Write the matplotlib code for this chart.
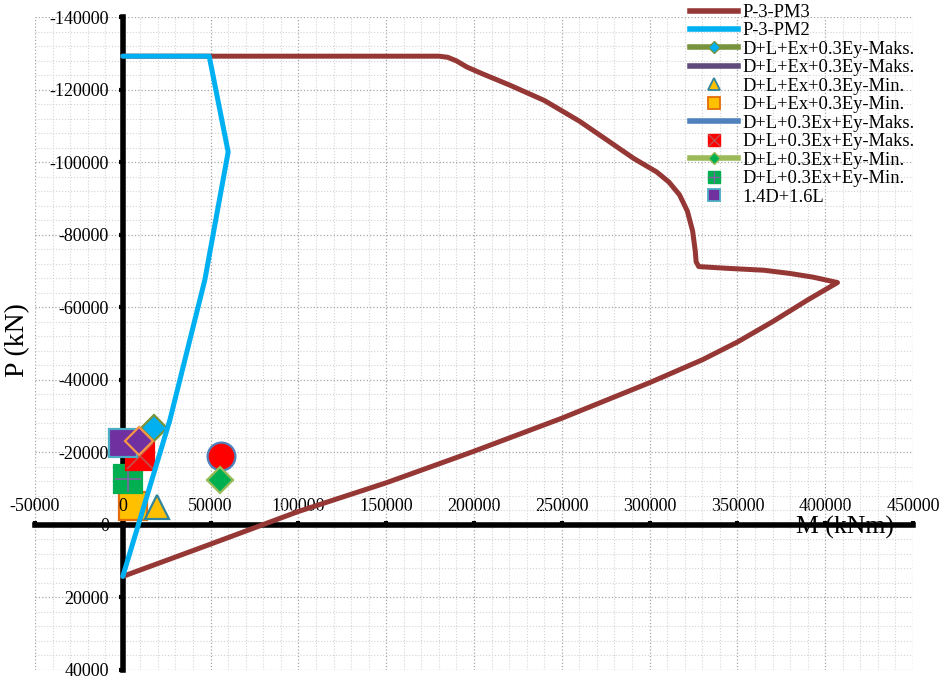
import matplotlib
matplotlib.use("Agg")
import matplotlib.pyplot as plt
from matplotlib.lines import Line2D
from matplotlib.ticker import MultipleLocator

plt.rcParams['font.family'] = ['Liberation Serif', 'DejaVu Serif']
plt.rcParams['axes.unicode_minus'] = False

# interaction diagram P-3-PM3 (M in kNm, P in kN, compression negative)
pm3_m = [0, 50000, 100000, 150000, 200000, 250000, 300000, 330000, 350000,
         370000, 390000, 407000, 393000, 380000, 365000, 345000, 328000,
         326500, 326000, 324500, 321500, 317000, 311000, 304000, 291000, 276000,
         260000, 240000, 220000, 205000, 196000, 190000, 185000, 180000, 0]
pm3_p = [14200, 5300, -3700, -11600, -20300, -29400, -39200, -45500, -50400,
         -56000, -62000, -66800, -68300, -69300, -70200, -70700, -71200,
         -72500, -75500, -81000, -86500, -91000, -94500, -97300, -101000, -106000,
         -111300, -117000, -121300, -124300, -126200, -127900, -128900, -129200, -129200]

# interaction diagram P-3-PM2
pm2_m = [0, 9700, 26800, 46700, 60000, 49200, 0]
pm2_p = [14200, -1400, -28900, -67500, -102800, -129200, -129200]

# load combinations
combo_names = ["D+L+Ex+0.3Ey-Maks.", "D+L+Ex+0.3Ey-Maks.",
               "D+L+Ex+0.3Ey-Min.", "D+L+Ex+0.3Ey-Min.",
               "D+L+0.3Ex+Ey-Maks.", "D+L+0.3Ex+Ey-Maks.",
               "D+L+0.3Ex+Ey-Min.", "D+L+0.3Ex+Ey-Min.",
               "1.4D+1.6L"]
combo_m = [17600, 9000, 19600, 5700, 55800, 9900, 55500, 2700, 0]
combo_p = [-26600, -23200, -5000, -5100, -19000, -18900, -12500, -12600, -22700]

x_ticks = list(range(-50000, 450001, 50000))
y_ticks = list(range(-140000, 40001, 20000))

fig = plt.figure(figsize=(9.5, 6.82), dpi=100)
ax = fig.add_axes([35 / 950, 1 - 670 / 682, (913 - 35) / 950, (670 - 17) / 682])

ax.set_xlim(-50000, 450000)
ax.set_ylim(40000, -140000)
ax.set_xticks(x_ticks)
ax.set_yticks(y_ticks)
# the x "0" is written separately so it sits above the markers
ax.set_xticklabels(['' if v == 0 else str(v) for v in x_ticks])
ax.set_yticklabels([str(v) for v in y_ticks])
ax.xaxis.set_minor_locator(MultipleLocator(10000))
ax.yaxis.set_minor_locator(MultipleLocator(4000))

ax.grid(which='major', ls=':', color='#A6A6A6', lw=0.9)
ax.grid(which='minor', ls=':', color='#D4D4D4', lw=0.8)
ax.set_axisbelow(True)

# axes cross at the origin
ax.xaxis.set_ticks_position('top')
ax.spines['top'].set_position(('data', 0))
ax.spines['left'].set_position(('data', 0))
ax.spines['right'].set_visible(False)
ax.spines['bottom'].set_visible(False)
for s in ('top', 'left'):
    ax.spines[s].set_linewidth(4)
    ax.spines[s].set_zorder(2)
ax.tick_params(which='major', direction='out', length=3, width=3, labelsize=13)
ax.tick_params(axis='x', pad=4)
ax.tick_params(axis='y', pad=7)
ax.tick_params(which='minor', length=0)
ax.annotate('0', xy=(0, 0), xytext=(0, 7), textcoords='offset points',
            ha='center', va='bottom', fontsize=13, zorder=10)

ax.plot(pm3_m, pm3_p, color='#953735', lw=3.6, solid_capstyle='round',
        solid_joinstyle='round', zorder=6)
ax.plot(pm2_m, pm2_p, color='#00B0F0', lw=3.6, solid_capstyle='round',
        solid_joinstyle='round', zorder=7)

# marker styles per combination: (marker, size, face, edge, overlay)
styles = [
    ('D', 13.7, '#00B0F0', '#77933C', None),
    ('D', 14.5, '#7030A0', '#F79646', None),
    ('^', 17, '#FFC000', '#31859C', None),
    ('s', 19.5, '#FFC000', '#E46C0A', None),
    ('o', 20, '#FF0000', '#4F81BD', None),
    ('s', 19.5, '#FF0000', '#FF0000', ('x', '#C0504D')),
    ('D', 13.7, '#00B050', '#9BBB59', None),
    ('s', 20, '#00B050', '#00B050', ('+', '#8064A2')),
    ('s', 19.5, '#7030A0', '#4BACC6', None),
]
z_order = [5.4, 5.5, 5.1, 5.0, 5.0, 5.2, 5.1, 5.0, 5.3]
for m, p, st, z in zip(combo_m, combo_p, styles, z_order):
    mk, ms, fc, ec, over = st
    ax.plot([m], [p], marker=mk, ms=ms, mfc=fc, mec=ec, mew=1.6, ls='none', zorder=z)
    if over:
        ax.plot([m], [p], marker=over[0], ms=ms * 0.95, mec=over[1], mew=1.2,
                ls='none', zorder=z)

# legend handles
lw = 4
handles = [
    Line2D([], [], color='#953735', lw=lw),
    Line2D([], [], color='#00B0F0', lw=lw),
    Line2D([], [], color='#77933C', lw=lw, marker='D', ms=6, mfc='#00B0F0', mec='#77933C'),
    Line2D([], [], color='#604A7B', lw=lw),
    Line2D([], [], ls='none', marker='^', ms=8, mfc='#FFC000', mec='#31859C', mew=1.3),
    Line2D([], [], ls='none', marker='s', ms=8, mfc='#FFC000', mec='#E46C0A', mew=1.3),
    Line2D([], [], color='#4F81BD', lw=lw),
    (Line2D([], [], ls='none', marker='s', ms=8, mfc='#FF0000', mec='#FF0000'),
     Line2D([], [], ls='none', marker='x', ms=8, mec='#C0504D', mew=1)),
    Line2D([], [], color='#9BBB59', lw=lw, marker='D', ms=6, mfc='#00B050', mec='#9BBB59'),
    (Line2D([], [], ls='none', marker='s', ms=8, mfc='#00B050', mec='#00B050'),
     Line2D([], [], ls='none', marker='+', ms=8, mec='#8064A2', mew=1)),
    Line2D([], [], ls='none', marker='s', ms=8, mfc='#7030A0', mec='#4BACC6', mew=1.3),
]
labels = ["P-3-PM3", "P-3-PM2"] + combo_names
fig.legend(handles, labels, loc='upper left', bbox_to_anchor=(690 / 950, 1 - 4 / 682),
           frameon=False, fontsize=13.3, handlelength=2.6, handletextpad=0.25,
           labelspacing=0.08, borderpad=0, borderaxespad=0)

fig.text(18 / 950, 1 - 340 / 682, "P (kN)", rotation=90, fontsize=20,
         ha='center', va='center')
fig.text(845 / 950, 1 - 527 / 682, "M (kNm)", fontsize=18.5, ha='center', va='center')

fig.savefig("out.png", dpi=100)
